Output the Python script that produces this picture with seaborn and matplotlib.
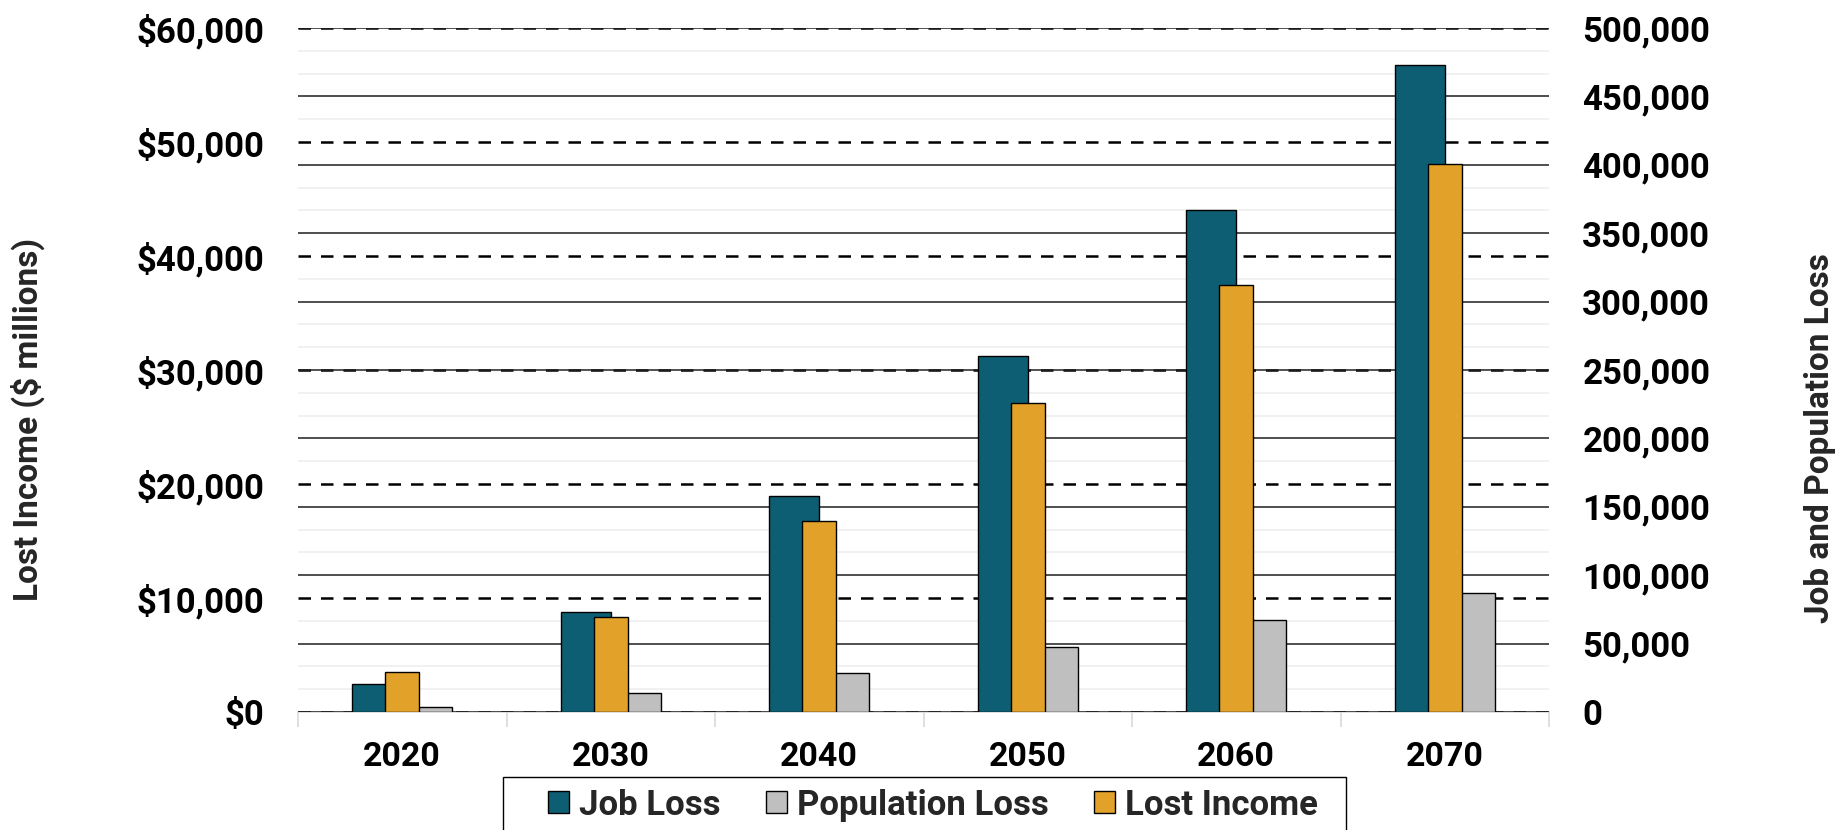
import pandas as pd
import matplotlib
matplotlib.use('Agg')
import matplotlib.pyplot as plt
from matplotlib.patches import Patch, Rectangle
from matplotlib.ticker import FuncFormatter, MultipleLocator
import seaborn as sns

# data
years = ['2020', '2030', '2040', '2050', '2060', '2070']
job_loss = [20500, 73100, 157700, 260500, 366700, 473200]
population_loss = [3400, 13700, 28300, 47800, 67000, 86700]
lost_income = [3480, 8330, 16780, 27130, 37450, 48030]

teal = '#0E5E73'
grey = '#BFBFBF'
orange = '#E2A129'

sns.set_theme(style='white')
plt.rcParams['font.family'] = ['Roboto', 'DejaVu Sans']
plt.rcParams['font.weight'] = 'bold'
plt.rcParams['axes.labelweight'] = 'bold'

# long table for the two series on the right axis
loss_df = pd.DataFrame({
    'Year': years * 2,
    'Value': job_loss + population_loss,
    'Series': ['Job Loss'] * len(years) + ['Population Loss'] * len(years),
})

fig = plt.figure(figsize=(18.46, 8.30), dpi=100)
ax1 = fig.add_axes([298 / 1846, 1 - 712 / 830, 1251 / 1846, 684 / 830])
ax2 = ax1.twinx()   # job / population loss
ax3 = ax1.twinx()   # lost income bars, drawn on top

# left axis: only gridlines + ticks
ax1.set_xlim(-0.5, 5.5)
ax1.set_ylim(0, 60000)
ax1.yaxis.set_major_locator(MultipleLocator(10000))
ax1.yaxis.set_minor_locator(MultipleLocator(2000))
ax1.grid(axis='y', which='minor', color='#EEEEEE', linewidth=1.1, linestyle='-')
ax1.grid(axis='y', which='major', color='black', linewidth=1.8, linestyle=(0, (5, 4)))
ax1.set_axisbelow(True)
ax1.yaxis.set_major_formatter(FuncFormatter(lambda v, p: f'${v:,.0f}'))

sns.barplot(data=loss_df, x='Year', y='Value', hue='Series', ax=ax2,
            palette=[teal, grey], width=0.48, errorbar=None, saturation=1,
            edgecolor='black', linewidth=1, legend=False)
ax2.set_ylim(0, 500000)
ax2.yaxis.set_major_locator(MultipleLocator(50000))
ax2.yaxis.set_major_formatter(FuncFormatter(lambda v, p: f'{v:,.0f}'))
ax2.grid(axis='y', which='major', color='#222222', linewidth=1.1, linestyle='-')
ax2.grid(axis='x', visible=False)
ax2.set_axisbelow(True)
ax2.get_ygridlines()[0].set_visible(False)

sns.barplot(x=years, y=lost_income, ax=ax3, color=orange, width=0.163,
            errorbar=None, saturation=1, edgecolor='black', linewidth=1)
ax3.set_ylim(0, 60000)
ax3.set_axis_off()

# zero dashed line in grey like the reference
ax1.get_ygridlines()[0].set_color('#777777')
ax1.get_ygridlines()[0].set_linewidth(1.6)
ax1.get_ygridlines()[0].set_clip_on(False)

for ax in (ax1, ax2):
    ax.set_xlim(-0.5, 5.5)
    for s in ('top', 'left', 'right'):
        ax.spines[s].set_visible(False)
    ax.spines['bottom'].set_color('#D9D9D9')
    ax.spines['bottom'].set_linewidth(1.2)
    ax.spines['bottom'].set_zorder(0.3)
    ax.tick_params(axis='y', which='both', length=0, labelsize=25, pad=24,
                   colors='black')
    ax.set_xlabel('')

ax2.spines['bottom'].set_visible(False)
ax1.set_xticks(range(len(years)))
ax1.set_xticklabels(years)
ax1.set_xticks([i - 0.5 for i in range(len(years) + 1)], minor=True)
ax1.tick_params(axis='x', which='major', length=0, labelsize=24.5, pad=21,
                colors='black')
ax1.tick_params(axis='x', which='minor', length=11, width=1.2,
                color='#D9D9D9', direction='out', bottom=True)
ax2.tick_params(axis='x', which='both', length=0, labelbottom=False)

ax1.set_ylabel('Lost Income ($ millions)', fontsize=24, fontweight='bold')
ax1.yaxis.set_label_coords(-0.202, 0.427)
ax2.set_ylabel('Job and Population Loss', fontsize=24, fontweight='bold')
ax2.yaxis.set_label_coords(1.204, 0.40)

handles = [Patch(facecolor=teal, edgecolor='black', linewidth=1),
           Patch(facecolor=grey, edgecolor='black', linewidth=1),
           Patch(facecolor=orange, edgecolor='black', linewidth=1)]
labels = ['Job Loss', 'Population Loss', 'Lost Income']
fig.legend(handles, labels, loc='center', bbox_to_anchor=(0.5054, 0.030),
           ncol=3, frameon=False, handlelength=0.6,
           handleheight=0.6, handletextpad=0.3, columnspacing=1.3,
           borderpad=0, prop={'weight': 'bold', 'size': 25})
fig.patches.append(Rectangle((503 / 1846, -0.01), 843 / 1846, 0.0739,
                             transform=fig.transFigure, fill=False,
                             edgecolor='black', linewidth=1))

fig.savefig('out.png', dpi=100)
